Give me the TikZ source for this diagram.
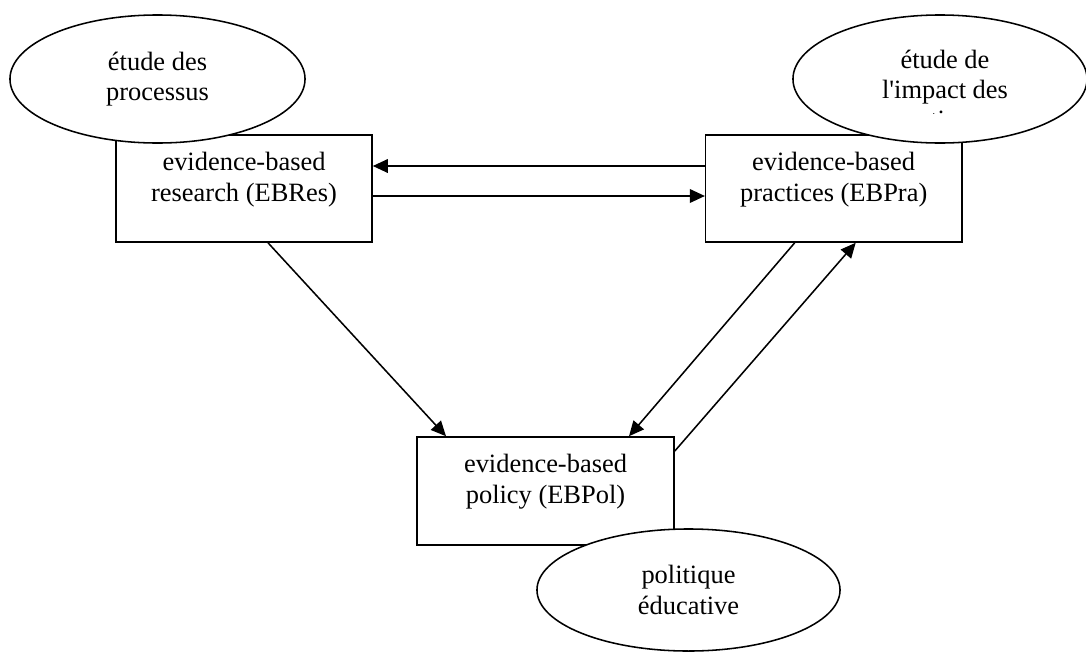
\documentclass[tikz,border=0pt]{standalone}
\usepackage{fontspec}
\setmainfont{Liberation Serif}
\usetikzlibrary{positioning,shapes.geometric,arrows.meta,calc}

\begin{document}
\begin{tikzpicture}[x=0.025cm,y=-0.025cm,>={Triangle[length=0.375cm,width=0.34cm]},line width=1.1pt,
    box/.style={rectangle,draw,minimum width=6.4cm,minimum height=2.675cm,inner sep=0pt},
    bubble/.style={ellipse,draw,fill=white,inner sep=0pt,minimum width=7.375cm,minimum height=3.2cm},
    txt/.style={align=center,inner sep=0pt,font=\fontsize{18.8}{21.5}\selectfont}]

            \useasboundingbox (0,0) rectangle (1086,652);

            \node[box] (res) at (244,188.5) {};
            \node[box] (pra) [right=8.3cm of res] {};
            \node[box, minimum width=6.425cm, minimum height=2.7cm] (pol) at (545.5,491) {};

            \node[txt] (resT) [below=0.44cm of res.north] {evidence-based\\research (EBRes)};
            \node[txt] (praT) [below=0.44cm of pra.north] {evidence-based\\practices (EBPra)};
            \node[txt] (polT) [below=0.44cm of pol.north] {evidence-based\\policy (EBPol)};

            \draw[->] ($(pra.west)+(0,-22.5)$) to ($(res.east)+(0,-22.5)$);
            \draw[->] ($(res.east)+(0,7.5)$) to ($(pra.west)+(0,7.5)$);
            \draw[->] ($(res.south)+(24,0)$) to ($(pol.north)+(-99.5,0)$);
            \draw[->] ($(pra.south)+(-39,0)$) to ($(pol.north)+(83.5,0)$);
            \draw[->] ($(pol.east)+(0,-40)$) to ($(pra.south)+(22,0)$);

            \node[bubble, txt] (proc) at (157.5,79) {étude des\\processus};
            \node[bubble, minimum width=7.35cm] (imp) at (940,79) {};
            \node[bubble, txt, minimum width=7.575cm, minimum height=3.05cm] (edu) at (688.5,590) {politique\\éducative};

            % third line of the bubble is cut off
            \begin{scope}
                \clip (793,15) rectangle (1086,113);
                \node[txt] (impT) [below=0.875cm of imp.north, xshift=0.125cm] {étude de\\l\textquotesingle impact des\\pratiques};
            \end{scope}

            ;
        \end{tikzpicture}
\end{document}
